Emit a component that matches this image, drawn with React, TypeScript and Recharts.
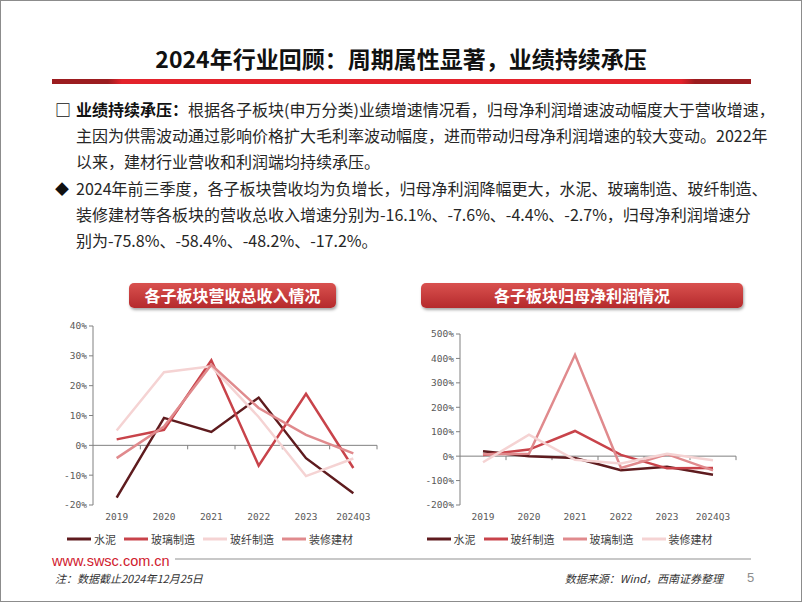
import { LineChart, Line, XAxis, YAxis, Legend, ReferenceLine } from 'recharts'

const years = ['2019', '2020', '2021', '2022', '2023', '2024Q3']

// 营收总收入增速 (%)
const revCement = [-17.5, 9.2, 4.5, 16.0, -4.3, -16.1]
const revGlass = [2.0, 5.2, 28.5, -6.8, 17.3, -7.6]
const revFiber = [5.0, 24.5, 26.5, 9.5, -10.3, -4.4]
const revDeco = [-4.3, 6.3, 27.0, 12.5, 3.5, -2.7]
const revTicks = [-20, -10, 0, 10, 20, 30, 40]
const revNames = ['水泥', '玻璃制造', '玻纤制造', '装修建材']

// 归母净利润增速 (%)
const npCement = [20, 0, -8, -58, -43, -75.8]
const npFiber = [5, 27, 103, 5, -50, -48.2]
const npGlass = [8, 10, 415, -48, 8, -58.4]
const npDeco = [-25, 88, -15, -30, 10, -17.2]
const npTicks = [-200, -100, 0, 100, 200, 300, 400, 500]
const npNames = ['水泥', '玻纤制造', '玻璃制造', '装修建材']

const DARK = '#5e1b1e'
const RED = '#c8434a'
const MID = '#e08a8d'
const LIGHT = '#f5d3d3'

const revData = years.map((y, i) => ({
  year: y,
  cement: revCement[i],
  glass: revGlass[i],
  fiber: revFiber[i],
  deco: revDeco[i],
}))

const npData = years.map((y, i) => ({
  year: y,
  cement: npCement[i],
  fiber: npFiber[i],
  glass: npGlass[i],
  deco: npDeco[i],
}))

const CJK = '"Noto Sans CJK SC", "Noto Sans", sans-serif'
const MONO = '"DejaVu Sans Mono", "Liberation Mono", monospace'
const tickStyle = { fontSize: 9.5, fill: '#595959', fontFamily: MONO }

// zero line with category boundary ticks (the x axis sits on 0%)
const ZeroAxis = (props: any) => {
  const { x1, y1, x2 } = props
  const step = (x2 - x1) / years.length
  return (
    <g>
      <line x1={x1} y1={y1} x2={x2} y2={y1} stroke="#808080" strokeWidth={1} />
      {years.map((_, i) => (
        <line key={i} x1={x1 + step * (i + 1)} y1={y1} x2={x1 + step * (i + 1)} y2={y1 + 4} stroke="#808080" strokeWidth={1} />
      ))}
    </g>
  )
}

const LegendRow = ({ payload }: any) => (
  <div style={{ display: 'flex', justifyContent: 'center', fontFamily: CJK, fontSize: 11, color: '#404040' }}>
    {(payload || []).map((item: any) => (
      <div key={item.value} style={{ display: 'flex', alignItems: 'center', marginRight: 8 }}>
        <svg width={24} height={6}>
          <line x1={0} y1={3} x2={24} y2={3} stroke={item.color} strokeWidth={3} />
        </svg>
        <span style={{ marginLeft: 3 }}>{item.value}</span>
      </div>
    ))}
  </div>
)

const pct = (v: number) => `${v}%`

const bodyLines = [
  { top: 95, mark: '□', bold: '业绩持续承压：', text: '根据各子板块(申万分类)业绩增速情况看，归母净利润增速波动幅度大于营收增速，' },
  { top: 121, text: '主因为供需波动通过影响价格扩大毛利率波动幅度，进而带动归母净利润增速的较大变动。2022年' },
  { top: 147, text: '以来，建材行业营收和利润端均持续承压。' },
  { top: 174, mark: '◆', text: '2024年前三季度，各子板块营收均为负增长，归母净利润降幅更大，水泥、玻璃制造、玻纤制造、' },
  { top: 200, text: '装修建材等各板块的营收总收入增速分别为-16.1%、-7.6%、-4.4%、-2.7%，归母净利润增速分' },
  { top: 226, text: '别为-75.8%、-58.4%、-48.2%、-17.2%。' },
]

const header = (left: number, width: number, label: string) => (
  <div
    style={{
      position: 'absolute', left, top: 282, width, height: 25,
      background: 'linear-gradient(#d9514f, #b52a2c)', borderRadius: 5,
      boxShadow: '1px 2px 3px rgba(0,0,0,0.35)', color: '#fff',
      fontFamily: CJK, fontWeight: 700, fontSize: 16, lineHeight: '25px', textAlign: 'center',
    }}
  >
    {label}
  </div>
)

export default function App() {
  return (
    <div
      style={{
        position: 'absolute', left: 0, top: 0, width: 802, height: 602, boxSizing: 'border-box',
        border: '1px solid #8c8c8c', background: '#fff', overflow: 'hidden', fontFamily: CJK,
      }}
    >
      <div style={{ position: 'absolute', left: 0, width: 800, top: 42, textAlign: 'center', fontSize: 23, fontWeight: 700, lineHeight: '30px', color: '#111' }}>
        2024年行业回顾：周期属性显著，业绩持续承压
      </div>
      <div
        style={{
          position: 'absolute', left: 51, top: 78, width: 699, height: 5,
          background: 'linear-gradient(90deg, #9b1c1f 0%, #9b1c1f 8%, #e3222b 10%, #e3222b 90%, #9b1c1f 92%, #9b1c1f 100%)',
        }}
      />

      {bodyLines.map((l, i) => (
        <div key={i} style={{ position: 'absolute', left: 75, top: l.top, fontSize: 16, lineHeight: '26px', color: '#262626', whiteSpace: 'nowrap' }}>
          {l.mark && (
            <span style={{ position: 'absolute', left: -21, top: 0, fontSize: l.mark === '□' ? 16 : 14, fontWeight: 700, color: '#111' }}>{l.mark}</span>
          )}
          {l.bold && <span style={{ fontWeight: 700, color: '#111' }}>{l.bold}</span>}
          {l.text}
        </div>
      ))}

      {header(128, 207, '各子板块营收总收入情况')}
      {header(420, 322, '各子板块归母净利润情况')}

      <div style={{ position: 'absolute', left: 50, top: 315 }}>
        <LineChart width={330} height={235} data={revData} margin={{ top: 10, right: 4, left: 0, bottom: 4 }}>
          <XAxis dataKey="year" scale="band" axisLine={false} tickLine={false} tick={tickStyle} interval={0} height={26} />
          <YAxis
            domain={[-20, 40]}
            ticks={revTicks}
            tickFormatter={pct}
            width={42}
            tick={tickStyle}
            tickSize={4}
            axisLine={{ stroke: '#808080' }}
            tickLine={{ stroke: '#808080' }}
            interval={0}
          />
          <ReferenceLine y={0} shape={<ZeroAxis />} />
          <Legend content={<LegendRow />} verticalAlign="bottom" itemSorter={(item: any) => revNames.indexOf(item.value)} />
          <Line dataKey="cement" name="水泥" stroke={DARK} strokeWidth={2.5} dot={false} isAnimationActive={false} />
          <Line dataKey="glass" name="玻璃制造" stroke={RED} strokeWidth={2.5} dot={false} isAnimationActive={false} />
          <Line dataKey="fiber" name="玻纤制造" stroke={LIGHT} strokeWidth={2.5} dot={false} isAnimationActive={false} />
          <Line dataKey="deco" name="装修建材" stroke={MID} strokeWidth={2.5} dot={false} isAnimationActive={false} />
        </LineChart>
      </div>

      <div style={{ position: 'absolute', left: 410, top: 315 }}>
        <LineChart width={340} height={235} data={npData} margin={{ top: 18, right: 15, left: 0, bottom: 4 }}>
          <XAxis dataKey="year" scale="band" axisLine={false} tickLine={false} tick={tickStyle} interval={0} height={26} />
          <YAxis
            domain={[-200, 500]}
            ticks={npTicks}
            tickFormatter={pct}
            width={49}
            tick={tickStyle}
            tickSize={4}
            axisLine={{ stroke: '#808080' }}
            tickLine={{ stroke: '#808080' }}
            interval={0}
          />
          <ReferenceLine y={0} shape={<ZeroAxis />} />
          <Legend content={<LegendRow />} verticalAlign="bottom" itemSorter={(item: any) => npNames.indexOf(item.value)} />
          <Line dataKey="cement" name="水泥" stroke={DARK} strokeWidth={2.5} dot={false} isAnimationActive={false} />
          <Line dataKey="fiber" name="玻纤制造" stroke={RED} strokeWidth={2.5} dot={false} isAnimationActive={false} />
          <Line dataKey="glass" name="玻璃制造" stroke={MID} strokeWidth={2.5} dot={false} isAnimationActive={false} />
          <Line dataKey="deco" name="装修建材" stroke={LIGHT} strokeWidth={2.5} dot={false} isAnimationActive={false} />
        </LineChart>
      </div>

      <div style={{ position: 'absolute', left: 51, top: 551, fontFamily: '"Liberation Sans", Arial, sans-serif', fontSize: 14.5, color: '#d0202e', lineHeight: '18px' }}>
        www.swsc.com.cn
      </div>
      <div style={{ position: 'absolute', left: 174, top: 557, width: 576, height: 2, background: '#c8c8c8' }} />
      <div style={{ position: 'absolute', left: 54, top: 569, fontSize: 11, fontStyle: 'italic', color: '#333', lineHeight: '16px' }}>
        注：数据截止2024年12月25日
      </div>
      <div style={{ position: 'absolute', right: 78, top: 569, fontSize: 11, fontStyle: 'italic', color: '#333', lineHeight: '16px' }}>
        数据来源：Wind，西南证券整理
      </div>
      <div style={{ position: 'absolute', left: 746, top: 568, fontSize: 13, color: '#8c8c8c', lineHeight: '18px', fontFamily: '"Liberation Sans", Arial, sans-serif' }}>
        5
      </div>
    </div>
  )
}
